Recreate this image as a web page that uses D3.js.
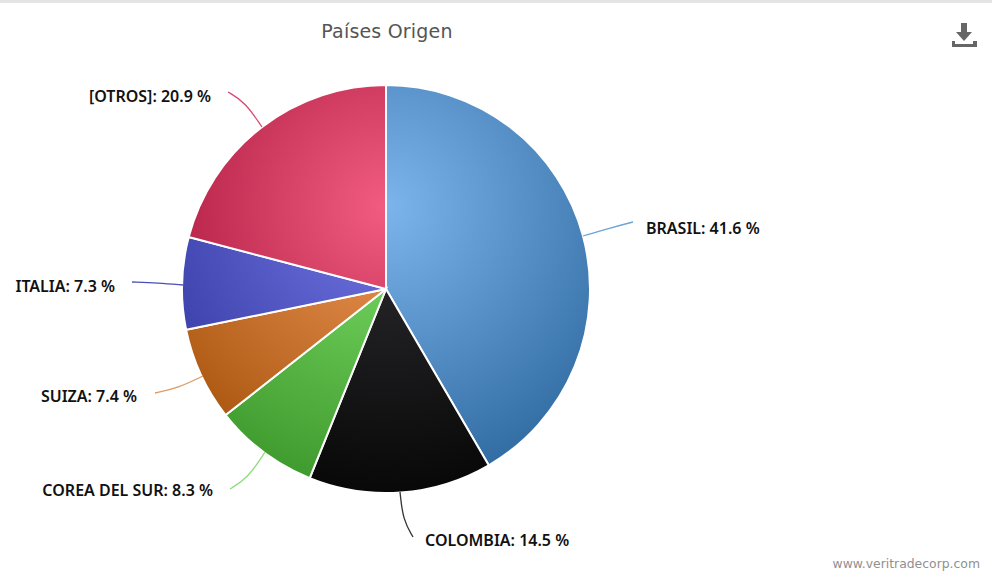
<!DOCTYPE html>
<html><head><meta charset="utf-8">
<script src="https://cdn.jsdelivr.net/npm/d3@7"></script>
<style>html,body{margin:0;padding:0;background:#fff;overflow:hidden}</style>
</head><body><svg id="c" width="992" height="577"></svg>
<script>
const categories=["BRASIL","COLOMBIA","COREA DEL SUR","SUIZA","ITALIA","[OTROS]"];
const values=[41.6,14.5,8.3,7.4,7.3,20.9];
const innerColors=["#7cb5ec","#2e2e32","#7ee06a","#f0985a","#7478e6","#f15c80"];
const outerColors=["#2f6aa0","#080808","#3f9a2d","#a8540d","#3237a0","#a51037"];
const lineColors=["#6ea3d6","#333333","#8fdc7e","#dd9a62","#4a4fb8","#d84a70"];
const labelPos=[[646,230,"start"],[425,542,"start"],[213,492,"end"],[137,398,"end"],[115,288,"end"],[211,98,"end"]];
const connectors=[[[583,236],[610,228],[633,222]],[[400,492],[403,520],[413,537]],[[265,452],[248,478],[230,489]],[[203,376],[178,388],[155,393]],[[183,285],[158,283],[132,282]],[[262,127],[245,102],[228,92]]];
const svg=d3.select("#c");
const cx=386,cy=289,r=204;
svg.append("rect").attr("x",0).attr("y",0).attr("width",992).attr("height",3).attr("fill","#e4e4e4");
const defs=svg.append("defs");
innerColors.forEach((c,i)=>{const g=defs.append("radialGradient").attr("id","g"+i).attr("gradientUnits","userSpaceOnUse").attr("cx",0).attr("cy",-82).attr("r",286);
g.append("stop").attr("offset",0).attr("stop-color",c);g.append("stop").attr("offset",1).attr("stop-color",outerColors[i]);});
const pie=d3.pie().sort(null).value(d=>d);
const arc=d3.arc().innerRadius(0).outerRadius(r);
svg.append("g").attr("transform",`translate(${cx},${cy})`).selectAll("path").data(pie(values)).join("path").attr("d",arc).attr("fill",(d,i)=>`url(#g${i})`).attr("stroke","#fff").attr("stroke-width",2);
const line=d3.line().curve(d3.curveBasis);
svg.append("g").selectAll("path").data(connectors).join("path").attr("d",d=>line(d)).attr("fill","none").attr("stroke",(d,i)=>lineColors[i]).attr("stroke-width",1.3);
svg.append("g").selectAll("text").data(categories).join("text").attr("x",(d,i)=>labelPos[i][0]).attr("y",(d,i)=>labelPos[i][1]).attr("text-anchor",(d,i)=>labelPos[i][2]).attr("dominant-baseline","middle").attr("font-family","'Noto Sans'").attr("font-size",16).attr("font-weight",600).attr("fill","#111").text((d,i)=>`${d}: ${values[i]} %`);
svg.append("text").attr("x",387).attr("y",32).attr("text-anchor","middle").attr("dominant-baseline","middle").attr("font-family","'DejaVu Sans'").attr("font-size",19).attr("letter-spacing",0.2).attr("fill","#555").text("Países Origen");
svg.append("text").attr("x",980).attr("y",564).attr("text-anchor","end").attr("dominant-baseline","middle").attr("font-family","'DejaVu Sans'").attr("font-size",12.4).attr("fill","#909090").text("www.veritradecorp.com");
const icon=svg.append("g").attr("fill","#666");
icon.append("path").attr("d",d3.line()([[961,23],[967,23],[967,32],[972,32],[964,41],[956,32],[961,32]])+"Z");
icon.append("path").attr("d",d3.line()([[952,41],[955,41],[955,44],[973,44],[973,41],[977,41],[977,47],[952,47]])+"Z");
</script></body></html>
